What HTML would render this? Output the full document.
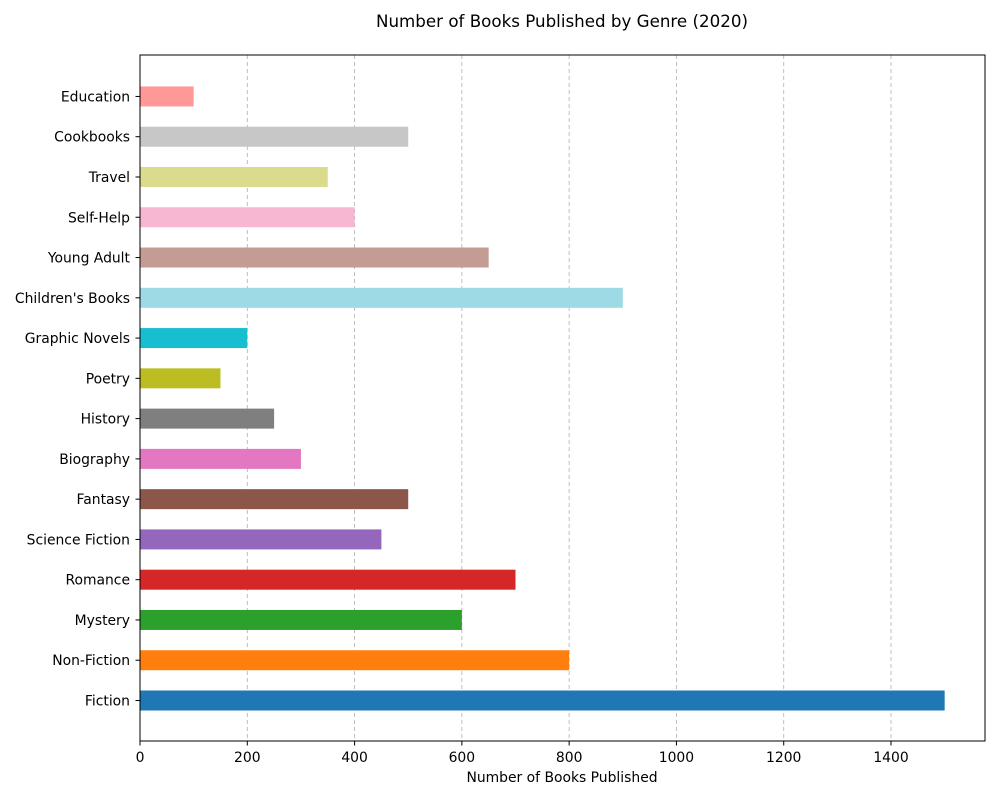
<!DOCTYPE html>
<html><head><meta charset="utf-8"><style>
body{margin:0;background:#fff;font-family:"Liberation Sans","DejaVu Sans",sans-serif;}
text{font-family:"DejaVu Sans","Liberation Sans",sans-serif;}
</style></head><body>
<svg id="chart" width="1000" height="800" xmlns="http://www.w3.org/2000/svg">
<rect width="1000" height="800" fill="#fff"/>
<text x="562" y="27" font-size="16.7" text-anchor="middle">Number of Books Published by Genre (2020)</text>
<text x="562" y="782" font-size="13.9" text-anchor="middle">Number of Books Published</text>
<g id="grid"></g><g id="bars"></g><g id="xticks"></g><g id="yticks"></g>
<rect x="140" y="55" width="845" height="686" fill="none" stroke="#000" stroke-width="1"/>
</svg>
<script>
const categories=["Fiction","Non-Fiction","Mystery","Romance","Science Fiction","Fantasy","Biography","History","Poetry","Graphic Novels","Children's Books","Young Adult","Self-Help","Travel","Cookbooks","Education"];
const values=[1500,800,600,700,450,500,300,250,150,200,900,650,400,350,500,100];
const colors=["#1f77b4","#ff7f0e","#2ca02c","#d62728","#9467bd","#8c564b","#e377c2","#7f7f7f","#bcbd22","#17becf","#9edae5","#c49c94","#f7b6d2","#dbdb8d","#c7c7c7","#ff9896"];
const xTicks=[0,200,400,600,800,1000,1200,1400];
const NS="http://www.w3.org/2000/svg";
const X0=140,X1=985,XMAX=1575.2;
const xs=v=>X0+v/XMAX*(X1-X0);
const ys=i=>700.5-i*40.27;
function mk(t,a,p){const e=document.createElementNS(NS,t);for(const k in a)e.setAttribute(k,a[k]);p.appendChild(e);return e;}
const g=document.getElementById('grid'),b=document.getElementById('bars'),xt=document.getElementById('xticks'),yt=document.getElementById('yticks');
xTicks.forEach(v=>{
 const x=xs(v);
 const l=mk('line',{x1:x,x2:x,y1:55,y2:741,stroke:'#b0b0b0','stroke-width':0.8,'stroke-dasharray':'4,3'},g);
 
 
 mk('line',{x1:x,x2:x,y1:741,y2:745.5,stroke:'#000'},xt);
 const t=mk('text',{x:x,y:762,'font-size':13.9,'text-anchor':'middle'},xt);
 t.textContent=v;
 
 
});
categories.forEach((c,i)=>{
 const y=ys(i);
 const r=mk('rect',{x:X0,y:y-10,width:xs(values[i])-X0,height:20,fill:colors[i]},b);
 
 
 mk('line',{x1:135.5,x2:140,y1:y,y2:y,stroke:'#000'},yt);
 const t=mk('text',{x:130,y:y+5,'font-size':13.9,'text-anchor':'end'},yt);
 t.textContent=c;
 
 
});
</script>
</body></html>
